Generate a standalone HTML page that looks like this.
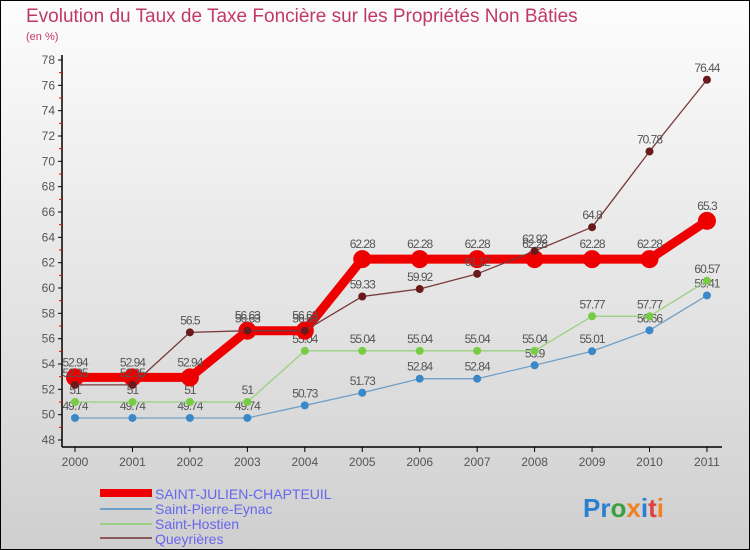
<!DOCTYPE html>
<html><head><meta charset="utf-8"><style>
body{margin:0;width:750px;height:550px;overflow:hidden;font-family:"Liberation Sans",sans-serif}
svg{display:block}
</style></head><body>
<svg id="c" width="750" height="550" xmlns="http://www.w3.org/2000/svg">
<defs><linearGradient id="bg" x1="0" y1="0" x2="0" y2="1"><stop offset="0" stop-color="#fdfdfd"/><stop offset="1" stop-color="#cfcfcf"/></linearGradient></defs>
<rect x="0.5" y="0.5" width="749" height="549" fill="url(#bg)" stroke="#000"/>
<text x="26" y="22" font-size="19" fill="#c0386a">Evolution du Taux de Taxe Foncière sur les Propriétés Non Bâties</text>
<text x="26" y="40" font-size="11" fill="#c0386a">(en %)</text>
<g id="axes"></g><g id="series"></g>
<g>
<rect x="100" y="489" width="52" height="8" fill="#ee0000"/>
<text x="155" y="499" font-size="14" fill="#6666ee">SAINT-JULIEN-CHAPTEUIL</text>
<line x1="100" y1="509" x2="152" y2="509" stroke="#6fa0c8" stroke-width="2"/>
<text x="155" y="514" font-size="14" fill="#6666ee">Saint-Pierre-Eynac</text>
<line x1="100" y1="524" x2="152" y2="524" stroke="#99d080" stroke-width="2"/>
<text x="155" y="529" font-size="14" fill="#6666ee">Saint-Hostien</text>
<line x1="100" y1="538" x2="152" y2="538" stroke="#8a5a5a" stroke-width="2"/>
<text x="155" y="544" font-size="14" fill="#6666ee">Queyrières</text>
</g>
<text x="583" y="517" font-size="26" font-weight="bold" fill="#2a7fd0">Pr<tspan fill="#3aa040">o</tspan><tspan fill="#f08020">x</tspan><tspan fill="#2a7fd0">i</tspan><tspan fill="#e04040">t</tspan><tspan fill="#f08020">i</tspan></text>
</svg>
<script>
const years=[2000,2001,2002,2003,2004,2005,2006,2007,2008,2009,2010,2011];
const yTicks=[48,50,52,54,56,58,60,62,64,66,68,70,72,74,76,78];
const sjc=[52.94,52.94,52.94,56.63,56.63,62.28,62.28,62.28,62.28,62.28,62.28,65.3];
const spe=[49.74,49.74,49.74,49.74,50.73,51.73,52.84,52.84,53.9,55.01,56.66,59.41];
const sho=[51,51,51,51,55.04,55.04,55.04,55.04,55.04,57.77,57.77,60.57];
const que=[52.35,52.35,56.5,56.63,56.63,59.33,59.92,61.12,62.92,64.8,70.78,76.44];
const NS="http://www.w3.org/2000/svg";
const xS=i=>75+i*57.45;
const yS=v=>60+(78-v)*12.667;
function mk(tag,attrs,parent,text){const e=document.createElementNS(NS,tag);for(const k in attrs)e.setAttribute(k,attrs[k]);if(text!==undefined)e.textContent=text;parent.appendChild(e);return e;}
const ax=document.getElementById('axes');
let l=mk('line',{x1:62,y1:55,x2:62,y2:447,stroke:'#000','stroke-width':1.5},ax);


l=mk('line',{x1:62,y1:447,x2:722,y2:447,stroke:'#000','stroke-width':1.5},ax);


yTicks.forEach(v=>{const y=yS(v);
 mk('line',{x1:58,y1:y,x2:62,y2:y,stroke:'#000'},ax);
 mk('line',{x1:59,y1:yS(v+1),x2:62,y2:yS(v+1),stroke:v<78?'#e00':'none'},ax);
 const t=mk('text',{x:55,y:y+4,'font-size':12,fill:'#555','text-anchor':'end'},ax,v);
 
 });
years.forEach((yr,i)=>{const x=xS(i);
 mk('line',{x1:x,y1:447,x2:x,y2:452,stroke:'#000'},ax);
 const t=mk('text',{x:x,y:466,'font-size':12,fill:'#555','text-anchor':'middle'},ax,yr);
 
 });
const sg=document.getElementById('series');
function draw(vals,color,w,r,dot,name){
 const g=mk('g',{},sg);
 
 
 const p=mk('polyline',{points:vals.map((v,i)=>xS(i)+','+yS(v)).join(' '),fill:'none',stroke:color,'stroke-width':w,'stroke-linejoin':'round'},g);
 
 
 vals.forEach((v,i)=>{
  const c=mk('circle',{cx:xS(i),cy:yS(v),r:r,fill:dot},g);
  
  
  const t=mk('text',{x:xS(i),y:yS(v)-8-(r>5?3:0),'font-size':12,fill:'#555','text-anchor':'middle','letter-spacing':'-1'},g,String(v));
  
  });
}
draw(spe,'#6fa0c8',1.3,4,'#3a88c8','saint-pierre');
draw(sho,'#99d080',1.3,4,'#77cc44','saint-hostien');
draw(sjc,'#ee0000',9,9,'#ee0000','saint-julien');
draw(que,'#7a3a3a',1.3,4,'#6a1a1a','queyrieres');
</script>
</body></html>
